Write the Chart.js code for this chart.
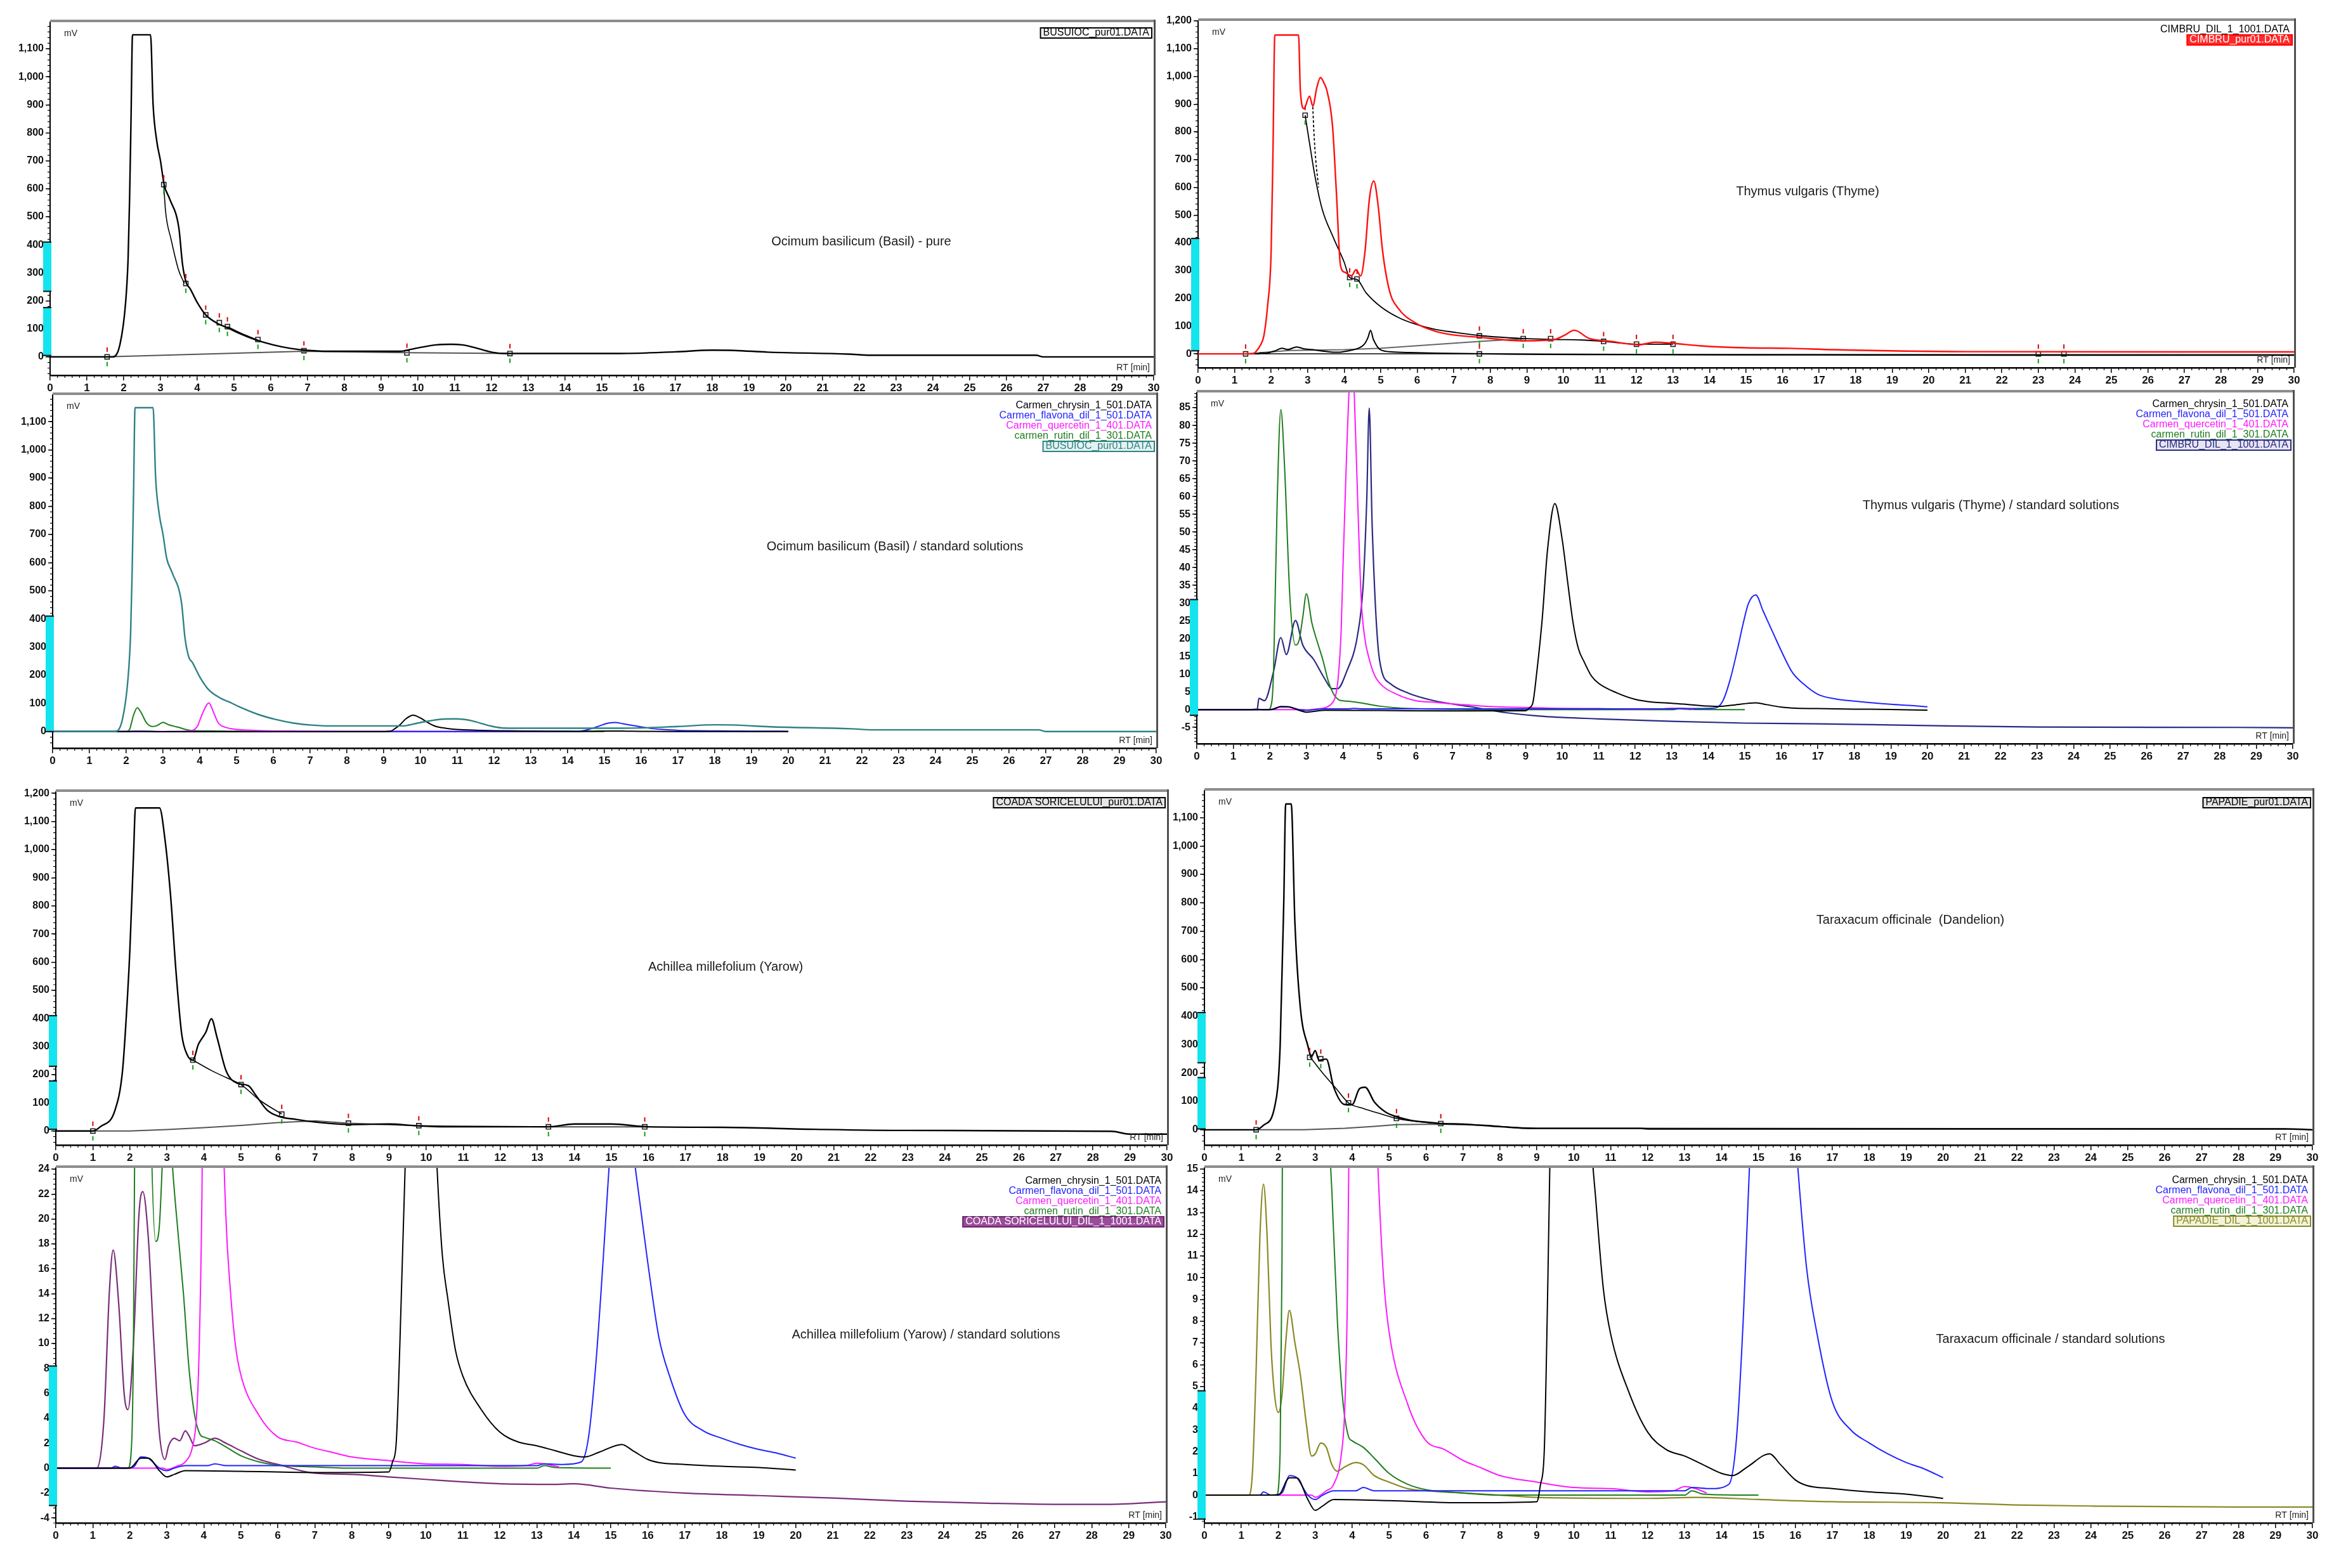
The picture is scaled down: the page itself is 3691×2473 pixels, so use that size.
<!DOCTYPE html>
<html><head><meta charset="utf-8">
<script src="https://cdn.jsdelivr.net/npm/chart.js@4.4.1/dist/chart.umd.min.js"></script>
<style>
html,body{margin:0;padding:0;background:#fff;width:3691px;height:2473px;overflow:hidden;}
canvas{position:absolute;}
</style></head><body>
<script>
// ===== DATA (retention time [min], signal [mV]) =====
const timeTicks = [0, 30];          // RT axis range, 1-min major ticks
const stdFiles = ['Carmen_chrysin_1_501.DATA','Carmen_flavona_dil_1_501.DATA','Carmen_quercetin_1_401.DATA','carmen_rutin_dil_1_301.DATA'];

// standard solutions (shared by all "standard solutions" panels)
const chrysinStd = [[0,0],[2.0,0],[2.3,0.8],[2.5,0.8],[2.8,-0.2],[3.0,-0.7],[3.2,-0.5],[3.5,-0.2],[5.0,-0.25],[7.0,-0.35],[9.0,-0.3],[9.1,0.5],[9.2,2],[9.3,10],[9.45,25],[9.6,45],[9.8,58],[10.0,48],[10.15,36],[10.3,24.4],[10.45,17],[10.6,13.5],[10.8,9.5],[11.0,7.4],[11.5,4.7],[12.0,2.9],[12.5,2.1],[13.0,1.8],[13.5,1.4],[14.0,1.0],[14.3,0.9],[14.7,1.3],[15.3,1.9],[15.6,1.4],[16.0,0.7],[16.3,0.45],[17,0.3],[18,0.15],[19,0.05],[20,-0.15]];
const flavoneStd = [[0,0],[1.5,0],[1.6,0.15],[1.8,0],[2.1,0.1],[2.3,0.9],[2.5,0.8],[2.8,0],[3.0,-0.2],[3.2,0],[3.5,0.2],[4.1,0.2],[4.3,0.35],[4.6,0.2],[13,0.2],[13.2,0.35],[13.7,0.3],[14.2,0.5],[14.4,2.5],[14.6,8.5],[14.8,17],[14.95,24],[15.1,29.9],[15.3,32.3],[15.5,27.8],[15.8,21],[16.0,16.5],[16.3,10.5],[16.6,7.3],[17.0,4.3],[17.5,3.0],[18.0,2.4],[18.5,1.9],[19.0,1.5],[19.5,1.2],[20.0,0.8]];
const quercetinStd = [[0,0],[2.9,0],[3.0,-0.1],[3.3,0.2],[3.5,0.5],[3.7,1.8],[3.8,4],[3.87,9],[3.95,22],[4.0,40],[4.1,72],[4.2,97],[4.25,102],[4.3,92],[4.4,60],[4.5,31],[4.6,20],[4.7,15],[4.85,10],[5.0,7.5],[5.5,4.2],[6.0,2.5],[6.5,2.1],[7.0,1.6],[7.5,1.25],[8.0,0.9],[9.0,0.6],[10,0.35],[11,0.3],[12,0.15],[12.7,0.2],[13.0,0.4],[13.3,0.3],[13.6,0.1]];
const rutinStd = [[0,0],[1.95,0],[2.05,2],[2.1,10.7],[2.2,58.6],[2.3,84.5],[2.4,68.8],[2.55,31.2],[2.7,18.2],[2.8,19.5],[2.9,26],[3.0,32.6],[3.15,24.4],[3.3,19],[3.45,14],[3.6,8],[3.75,4.3],[3.9,2.7],[4.0,2.5],[4.3,2.2],[4.6,1.7],[5.0,1.0],[5.5,0.5],[6.0,0.25],[7.0,0.1],[8,0],[13,0],[13.2,0.2],[13.5,0.05],[15,0]];

// Ocimum basilicum (Basil) – pure extract
const basilPure = [[0,0],[1.7,0],[1.9,45],[2.05,190],[2.12,350],[2.16,560],[2.2,850],[2.24,1150],[2.73,1150],[2.8,900],[2.9,770],[3.0,700],[3.1,615],[3.25,564],[3.5,460],[3.6,330],[3.7,265],[3.8,245],[4.0,194],[4.23,150],[4.57,118],[4.82,104],[5.07,88],[5.56,62],[6.06,43],[6.55,30],[7.05,23],[7.54,20],[9.0,20],[9.5,20],[9.92,30],[10.5,43],[10.9,45],[11.2,43],[11.4,38],[11.9,20],[12.2,13],[12.5,12],[15.5,12],[17,18],[18,24],[18.6,23],[19.5,17],[21.7,10],[22.3,6],[26.8,6],[27,0],[30,0]];
const basilSkim = [[3.09,612],[3.14,518],[3.29,419],[3.49,311],[3.65,262]];
const basilSkim2 = [[4.82,108],[5.2,84],[5.65,60]];
const basilBase = [[0,0],[1.55,0],[6.9,20],[9.7,15],[12.5,12]];
const basilMarks = [[1.55,0],[3.09,615],[3.69,262],[4.23,150],[4.6,122],[4.82,108],[5.65,62],[6.9,22],[9.7,14],[12.5,12]];

// Thymus vulgaris (Thyme)
const thymePure = [[0,0],[1.5,0],[1.6,11],[1.7,30],[1.8,65],[1.9,170],[2.0,371],[2.05,731],[2.1,1149],[2.75,1149],[2.8,947],[2.9,884],[3.05,929],[3.14,893],[3.25,960],[3.35,996],[3.45,975],[3.53,947],[3.68,821],[3.78,596],[3.9,317],[4.02,294],[4.2,281],[4.32,303],[4.45,281],[4.57,371],[4.69,560],[4.81,623],[4.93,533],[5.05,371],[5.24,227],[5.48,164],[5.97,110],[6.46,83],[6.94,69],[7.67,60],[8.89,47],[9.74,51],[10.0,65],[10.3,85],[10.7,56],[11.3,45],[12.06,33],[12.5,42],[13.0,38],[13.76,29],[14.98,22],[16.2,20],[17.4,15],[21,8],[30,7]];
const thymeDil = [[0,0],[1.65,0],[1.7,3.2],[1.85,2.5],[2.1,10.7],[2.3,20.3],[2.45,15.5],[2.7,25.1],[2.9,18.2],[3.2,14.1],[3.5,8.7],[3.7,5.9],[3.85,5.9],[4.1,10.7],[4.4,21],[4.55,34.6],[4.65,58.6],[4.72,84.9],[4.8,51.7],[5.0,14.1],[5.3,7.3],[5.8,4.6],[6.5,2.5],[7.5,0.8],[8.5,-0.9],[9.5,-1.9],[11,-2.6],[13,-3.3],[15,-3.8],[17,-4.0],[19.5,-4.4],[23,-4.9],[28.5,-5.0],[30,-5.1]];
const thymeSkim = [[2.93,860],[3.05,760],[3.2,640],[3.4,520],[3.7,420],[4.0,330],[4.15,275],[4.35,268],[4.6,220],[5.0,170],[5.5,130],[6.0,105],[6.5,88],[7.0,78],[7.7,66],[8.5,58],[9.0,55],[9.7,52],[10.5,50],[11.1,45],[12.0,35],[13.0,35]];
const thymeSkimDash = [[3.14,890],[3.17,800],[3.22,700],[3.3,600]];
const thymeBase1 = [[1.3,0],[2.5,12],[4.0,15],[5.0,20],[7.7,45],[9.0,55]];
const thymeBase2 = [[1.3,0],[7.7,0]];
const thymeBase3 = [[7.7,0],[12.0,-2],[30,-3]];
const thymeMarks = [[1.3,0],[2.93,860],[4.15,275],[4.35,270],[7.7,65],[7.7,0],[8.9,55],[9.65,55],[11.1,45],[12.0,35],[13.0,35],[23.0,0],[23.7,0]];

// Achillea millefolium (Yarrow)
const yarrowPure = [[0,0],[1.0,0],[1.2,15],[1.6,75],[1.8,213],[1.9,400],[2.0,645],[2.1,990],[2.15,1148],[2.8,1148],[2.95,1033],[3.1,834],[3.25,558],[3.4,343],[3.55,270],[3.7,252],[3.85,308],[4.05,351],[4.2,399],[4.35,334],[4.6,213],[4.9,170],[5.2,161],[5.4,127],[5.7,75],[6.0,53],[6.5,41],[7.0,32],[8.0,23],[9.0,25],[9.7,19],[10.5,15],[13.3,15],[14.0,25],[15.0,25],[16.0,15],[18,13],[20.5,6],[23,2],[28.5,-1],[29,-11],[30,-11]];
const yarrowSkim = [[3.7,252],[4.2,215],[4.6,190],[5.0,165],[5.5,110],[6.1,60]];
const yarrowBase = [[1,0],[2,0],[3,5],[4,12],[5,20],[6,30],[7,36],[7.9,28],[9.8,19],[13.3,15],[16,15]];
const yarrowMarks = [[1,0],[3.7,252],[5.0,165],[6.1,60],[7.9,28],[9.8,19],[13.3,15],[15.9,15]];
const yarrowDil = [[0,0],[1.1,0],[1.3,3.9],[1.45,14.3],[1.55,17.5],[1.7,13.2],[1.85,5.9],[1.95,4.7],[2.1,10.1],[2.25,20.5],[2.35,22.2],[2.5,18.5],[2.65,10.1],[2.8,2.8],[2.95,0.7],[3.05,1.8],[3.2,2.4],[3.35,2.2],[3.5,3.0],[3.6,2.6],[3.75,1.8],[4.0,2.0],[4.3,2.4],[4.6,2.0],[5.0,1.4],[5.5,0.7],[6.0,0.3],[7.0,-0.4],[8.0,-0.5],[9.0,-0.7],[10,-0.9],[11,-1.1],[12,-1.25],[13.5,-1.3],[14,-1.25],[15,-1.6],[17,-2.0],[19,-2.2],[21,-2.4],[23,-2.65],[25,-2.8],[27,-2.9],[28.5,-2.9],[30,-2.7]];

// Taraxacum officinale (Dandelion)
const dandelionPure = [[0,0],[1.4,0],[1.6,16],[1.9,80],[2.05,296],[2.15,815],[2.2,1148],[2.35,1148],[2.45,729],[2.6,426],[2.8,296],[2.9,258],[3.0,279],[3.1,245],[3.3,249],[3.5,150],[3.8,89],[4.0,89],[4.2,145],[4.35,150],[4.6,98],[4.9,63],[5.2,46],[5.6,33],[6.0,27],[6.4,22],[7.0,20],[8.0,11],[9.0,5],[11.8,5],[12,3],[29.3,3],[30,0]];
const dandelionSkim = [[2.85,258],[3.2,200],[3.6,140],[3.9,95],[4.3,75],[4.8,55],[5.2,40],[5.8,28],[6.4,22]];
const dandelionBase = [[1.4,0],[2.7,0],[3.8,5],[4.6,12],[5.2,18],[6.4,20],[7.7,15],[8.6,5],[11.8,5],[29.3,3]];
const dandelionMarks = [[1.4,0],[2.85,255],[3.15,250],[3.9,95],[5.2,40],[6.4,22]];
const dandelionDil = [[0,0],[1.2,0],[1.3,1.05],[1.4,5.8],[1.5,11.8],[1.6,14.3],[1.7,11.8],[1.8,7.0],[1.9,4.6],[2.0,3.8],[2.1,4.6],[2.2,7.0],[2.3,8.5],[2.45,7.0],[2.6,5.5],[2.75,3.4],[2.9,1.8],[3.0,1.9],[3.15,2.4],[3.3,2.2],[3.45,1.4],[3.6,1.1],[3.8,1.3],[4.1,1.5],[4.3,1.4],[4.6,0.9],[5.0,0.6],[5.5,0.3],[6.0,0.2],[7.0,0.1],[8,0],[9,-0.1],[12,-0.15],[13.3,-0.1],[15,-0.2],[17,-0.3],[20,-0.35],[22,-0.45],[24,-0.5],[28,-0.55],[30,-0.55]];

// ===== RENDERING =====
const TF = "'Liberation Sans Narrow','Liberation Sans',Arial,sans-serif";
const TXT = "'Liberation Sans',Arial,sans-serif";
const C = {black:'#000000', blue:'#2323ff', magenta:'#ff19ff', green:'#1f7d1f', navy:'#2b2b82', purple:'#7a2e7a', olive:'#8a8a26', red:'#ff1010', teal:'#2f8282', gray:'#555555'};
const xy = a => a.map(p => ({x:p[0], y:p[1]}));
const L = (data,color,w,o) => Object.assign({kind:'line',data,color,w:w||2.2,dash:[],smooth:true}, o||{});
const M = data => ({kind:'mark',data});
const STD = () => [L(chrysinStd,C.black,2), L(flavoneStd,C.blue,2), L(quercetinStd,C.magenta,2), L(rutinStd,C.green,2)];
const stdLegend = [{t:stdFiles[0],c:C.black},{t:stdFiles[1],c:C.blue},{t:stdFiles[2],c:C.magenta},{t:stdFiles[3],c:C.green}];

const PANELS = [
 {id:'p1',L:79,R:1819,T:35,B:592,ymin:-66,ymax:1195,step:100,
  series:[L(basilPure,C.black,2.4),L(basilSkim,C.black,1.6),L(basilSkim2,C.black,1.6),L(basilBase,C.gray,2,{smooth:false}),M(basilMarks)],
  title:'Ocimum basilicum (Basil) - pure',tx:1358,ty:381,legTop:17,
  legend:[{t:'BUSUIOC_pur01.DATA',c:'#000',box:{fill:'#fff',stroke:'#000'}}],cyan:[[5,176],[234,410]]},
 {id:'p2',L:1889,R:3617,T:33,B:580,ymin:-50,ymax:1200,step:100,
  series:[L(thymePure,C.red,2.4),L(thymeDil,C.black,2),L(thymeSkim,C.black,1.8),L(thymeSkimDash,C.black,1.8,{dash:[4,3]}),
          L(thymeBase1,'#666',2,{smooth:false}),L(thymeBase2,'#444',2,{smooth:false}),L(thymeBase3,'#444',2,{smooth:false}),M(thymeMarks)],
  title:'Thymus vulgaris (Thyme)',tx:2850,ty:302,legTop:14,
  legend:[{t:'CIMBRU_DIL_1_1001.DATA',c:'#000'},{t:'CIMBRU_pur01.DATA',c:'#fff',box:{fill:'#ff2a2a',stroke:'#ff0000'}}],cyan:[[11,416]]},
 {id:'p3',L:83,R:1823,T:623,B:1180,ymin:-59,ymax:1195,step:100,
  series:[L(basilPure,C.teal,2.4),...STD()],
  title:'Ocimum basilicum (Basil) / standard solutions',tx:1411,ty:862,legTop:17,
  legend:[...stdLegend,{t:'BUSUIOC_pur01.DATA',c:C.teal,box:{fill:'#e4f2f2',stroke:C.teal}}],cyan:[[0,410]]},
 {id:'p4',L:1887,R:3615,T:619,B:1173,ymin:-9.6,ymax:89.3,step:5,
  series:[...STD(),L(thymeDil,C.navy,2.2)],
  title:'Thymus vulgaris (Thyme) / standard solutions',tx:3139,ty:797,legTop:19,
  legend:[...stdLegend,{t:'CIMBRU_DIL_1_1001.DATA',c:C.navy,box:{fill:'#e6e6f2',stroke:C.navy}}],cyan:[[-1.6,31]]},
 {id:'p5',L:88,R:1840,T:1249,B:1806,ymin:-50,ymax:1205,step:100,
  series:[L(yarrowPure,C.black,2.4),L(yarrowSkim,C.black,1.6),L(yarrowBase,C.gray,2,{smooth:false}),M(yarrowMarks)],
  title:'Achillea millefolium (Yarow)',tx:1144,ty:1525,legTop:17,
  legend:[{t:'COADA SORICELULUI_pur01.DATA',c:'#000',box:{fill:'#e6e6e6',stroke:'#000'}}],cyan:[[6,178],[230,410]]},
 {id:'p6',L:1899,R:3646,T:1247,B:1806,ymin:-54,ymax:1195,step:100,
  series:[L(dandelionPure,C.black,2.4),L(dandelionSkim,C.black,1.6),L(dandelionBase,C.gray,2,{smooth:false}),M(dandelionMarks)],
  title:'Taraxacum officinale  (Dandelion)',tx:3012,ty:1451,legTop:19,
  legend:[{t:'PAPADIE_pur01.DATA',c:'#000',box:{fill:'#e6e6e6',stroke:'#000'}}],cyan:[[3,184],[236,413]]},
 {id:'p7',L:88,R:1838,T:1842,B:2402,ymin:-4.4,ymax:24.1,step:2,
  series:[...STD(),L(yarrowDil,C.purple,2.2)],
  title:'Achillea millefolium (Yarow) / standard solutions',tx:1460,ty:2105,legTop:21,
  legend:[...stdLegend,{t:'COADA SORICELULUI_DIL_1_1001.DATA',c:'#fff',box:{fill:'#9a4c9a',stroke:'#6a226a'}}],cyan:[[-3,8.2]]},
 {id:'p8',L:1899,R:3646,T:1842,B:2402,ymin:-1.28,ymax:15.05,step:1,
  series:[...STD(),L(dandelionDil,C.olive,2.2)],
  title:'Taraxacum officinale / standard solutions',tx:3233,ty:2112,legTop:20,
  legend:[...stdLegend,{t:'PAPADIE_DIL_1_1001.DATA',c:C.olive,box:{fill:'#f3f3dc',stroke:C.olive}}],cyan:[[-1.1,4.8]]}
];

const YW = 72, XH = 36, PT = 14, PR = 24;

function decor(P){
 return {
  id:'decor_'+P.id,
  afterDatasetsDraw(chart){
   const ctx = chart.ctx;
   chart.data.datasets.forEach((ds,i)=>{
    if(!ds.isMarker) return;
    chart.getDatasetMeta(i).data.forEach(pt=>{
     ctx.save(); ctx.lineWidth=2;
     ctx.strokeStyle='#e00000'; ctx.beginPath(); ctx.moveTo(pt.x,pt.y-15); ctx.lineTo(pt.x,pt.y-8); ctx.stroke();
     ctx.strokeStyle='#10a010'; ctx.beginPath(); ctx.moveTo(pt.x,pt.y+8); ctx.lineTo(pt.x,pt.y+15); ctx.stroke();
     ctx.restore();
    });
   });
  },
  afterDraw(chart){
   const ctx = chart.ctx, ca = chart.chartArea, xs = chart.scales.x, ys = chart.scales.y;
   ctx.save();
   // minor ticks
   ctx.strokeStyle='#000'; ctx.lineWidth=1.2; ctx.beginPath();
   for(let i=0;i<=150;i++){ if(i%5===0) continue; const px=xs.getPixelForValue(i*0.2); ctx.moveTo(px,ca.bottom); ctx.lineTo(px,ca.bottom+4); }
   const ms = P.step/5;
   for(let k=Math.ceil(P.ymin/ms); k*ms<=P.ymax; k++){ const py=ys.getPixelForValue(k*ms); ctx.moveTo(ca.left-4,py); ctx.lineTo(ca.left,py); }
   ctx.stroke();
   // frame
   ctx.fillStyle='#8c8c8c'; ctx.fillRect(ca.left, ca.top-4, ca.right-ca.left+3, 4);
   ctx.fillStyle='#505050'; ctx.fillRect(ca.right, ca.top-4, 3, ca.bottom-ca.top+4);
   // cyan group boxes on the signal axis
   P.cyan.forEach(r=>{
    const y1=ys.getPixelForValue(r[1]), y2=ys.getPixelForValue(r[0]);
    ctx.fillStyle='#14e4ee'; ctx.fillRect(ca.left-11,y1,13,y2-y1);
    ctx.fillStyle='#111'; ctx.fillRect(ca.left-11,y1-1,13,2); ctx.fillRect(ca.left-11,y2-1,13,2);
   });
   // unit labels
   ctx.fillStyle='#222'; ctx.font='14px '+TXT; ctx.textBaseline='middle';
   ctx.textAlign='left'; ctx.fillText('mV', ca.left+22, ca.top+18);
   ctx.textAlign='right'; ctx.fillText('RT [min]', ca.right-6, ca.bottom-12);
   // title
   ctx.font='20px '+TXT; ctx.textAlign='center'; ctx.fillStyle='#1a1a1a';
   ctx.fillText(P.title, P.tx-P.cx, P.ty-P.cy);
   // file legend
   ctx.font='16px '+TXT; ctx.textAlign='right';
   let ly = ca.top + P.legTop; const lx = ca.right - 7;
   P.legend.forEach(e=>{
    if(e.box){
     const w = ctx.measureText(e.t).width;
     ctx.fillStyle=e.box.fill; ctx.fillRect(lx-w-4, ly-8, w+8, 16);
     ctx.strokeStyle=e.box.stroke; ctx.lineWidth=2; ctx.strokeRect(lx-w-4, ly-8, w+8, 16);
    }
    ctx.fillStyle=e.c; ctx.fillText(e.t, lx, ly);
    ly += 16;
   });
   ctx.restore();
  }
 };
}

PANELS.forEach(P=>{
 const cx=P.L-YW, cy=P.T-PT, w=(P.R-P.L)+YW+PR, h=(P.B-P.T)+PT+XH;
 P.cx=cx; P.cy=cy;
 const c=document.createElement('canvas');
 c.width=w; c.height=h;
 c.style.left=cx+'px'; c.style.top=cy+'px'; c.style.width=w+'px'; c.style.height=h+'px';
 document.body.appendChild(c);
 const datasets = P.series.map(s=>{
  if(s.kind==='mark') return {data:xy(s.data), showLine:false, isMarker:true, pointStyle:'rect', pointRadius:5,
    pointBorderColor:'#222', pointBackgroundColor:'rgba(255,255,255,0)', pointBorderWidth:1.6, borderColor:'#222'};
  return {data:xy(s.data), borderColor:s.color, borderWidth:s.w, borderDash:s.dash, pointRadius:0, fill:false,
    tension: s.smooth?0.4:0, cubicInterpolationMode: s.smooth?'monotone':'default'};
 });
 new Chart(c.getContext('2d'), {
  type:'line',
  data:{datasets},
  options:{
   responsive:false, animation:false, devicePixelRatio:1, events:[],
   layout:{padding:{top:PT,right:PR,left:0,bottom:0}},
   plugins:{legend:{display:false}, tooltip:{enabled:false}},
   scales:{
    x:{type:'linear', min:timeTicks[0], max:timeTicks[1], afterFit:s=>{s.height=XH;},
       ticks:{stepSize:1, autoSkip:false, maxRotation:0, padding:2, color:'#111', font:{family:TF,size:17,weight:'bold'}},
       grid:{drawOnChartArea:false, tickLength:8, color:'#000', lineWidth:1.5},
       border:{color:'#000', width:2.5}},
    y:{type:'linear', min:P.ymin, max:P.ymax, afterFit:s=>{s.width=YW;},
       ticks:{stepSize:P.step, includeBounds:false, autoSkip:false, padding:3, color:'#111', font:{family:TF,size:16,weight:'bold'},
              callback:v=>Number(v).toLocaleString('en-US')},
       grid:{drawOnChartArea:false, tickLength:7, color:'#000', lineWidth:1.5},
       border:{color:'#000', width:2}}
   }
  },
  plugins:[decor(P)]
 });
});
</script>
</body></html>
